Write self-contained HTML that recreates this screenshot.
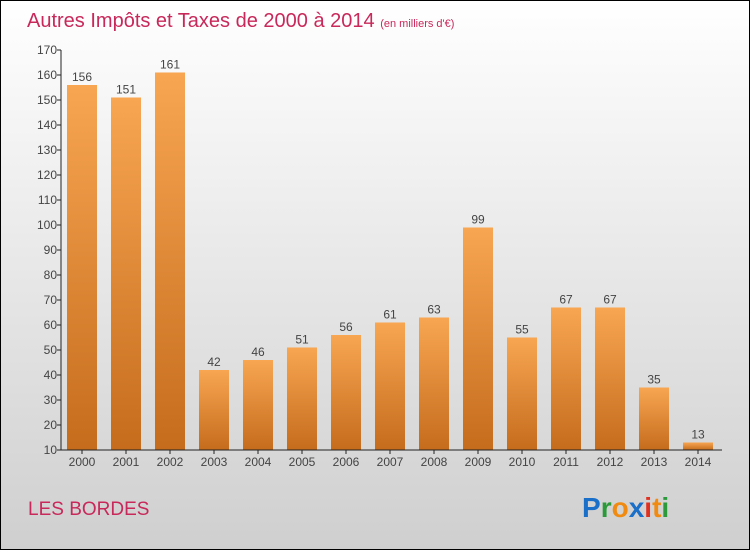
<!DOCTYPE html>
<html><head><meta charset="utf-8"><style>
body{margin:0;width:750px;height:550px;overflow:hidden}
svg{display:block;font-family:"Liberation Sans",sans-serif}
</style></head><body>
<svg id="c" width="750" height="550">
<defs>
<linearGradient id="bg" x1="0" y1="0" x2="0" y2="1"><stop offset="0" stop-color="#ffffff"/><stop offset="1" stop-color="#cfcfcf"/></linearGradient>
<linearGradient id="bar" x1="0" y1="0" x2="0" y2="1"><stop offset="0" stop-color="#f8a652"/><stop offset="1" stop-color="#c56c1c"/></linearGradient>
</defs>
<rect x="0.5" y="0.5" width="749" height="549" fill="url(#bg)" stroke="#000"/>
<text x="27" y="27" font-size="20" fill="#c8285a">Autres Impôts et Taxes de 2000 à 2014 <tspan font-size="11">(en milliers d'€)</tspan></text>
<g id="plot"></g>
<text x="28" y="515" font-size="19" fill="#c8285a">LES BORDES</text>
<text x="582" y="517" font-size="28" font-weight="bold"><tspan fill="#1a6fc8">P</tspan><tspan fill="#2a9a3a">r</tspan><tspan fill="#f08a10">o</tspan><tspan fill="#1a6fc8">x</tspan><tspan fill="#e03020">i</tspan><tspan fill="#f08a10">t</tspan><tspan fill="#2a9a3a">i</tspan></text>
</svg>
<script>
const years=["2000","2001","2002","2003","2004","2005","2006","2007","2008","2009","2010","2011","2012","2013","2014"];
const values=[156,151,161,42,46,51,56,61,63,99,55,67,67,35,13];
const yTicks=[10,20,30,40,50,60,70,80,90,100,110,120,130,140,150,160,170];
const NS="http://www.w3.org/2000/svg";
const g=document.getElementById('plot');
const y=v=>450-(v-10)*2.5;
const xc=i=>82+i*44;
function mk(t,a,txt){const e=document.createElementNS(NS,t);for(const k in a)e.setAttribute(k,a[k]);if(txt!==undefined)e.textContent=txt;g.appendChild(e);return e;}
values.forEach((v,i)=>{
 const r=mk('rect',{x:xc(i)-15,y:y(v),width:30,height:450-y(v),fill:'url(#bar)'});
 
 
 const t=mk('text',{x:xc(i),y:y(v)-4,'font-size':12,fill:'#444','text-anchor':'middle'},String(v));
 
 
 const xl=mk('text',{x:xc(i),y:466,'font-size':12,fill:'#444','text-anchor':'middle'},years[i]);
 
 
 mk('line',{x1:xc(i),x2:xc(i),y1:450,y2:454,stroke:'#222'});
});
yTicks.forEach(v=>{
 mk('line',{x1:57,x2:61,y1:y(v),y2:y(v),stroke:'#222'});
 const t=mk('text',{x:57,y:y(v)+4,'font-size':12,fill:'#444','text-anchor':'end'},String(v));
 
 
});
const ya=mk('line',{x1:61,x2:61,y1:50,y2:450,stroke:'#222'});


const xa=mk('line',{x1:61,x2:722,y1:450,y2:450,stroke:'#222'});


</script>
</body></html>
